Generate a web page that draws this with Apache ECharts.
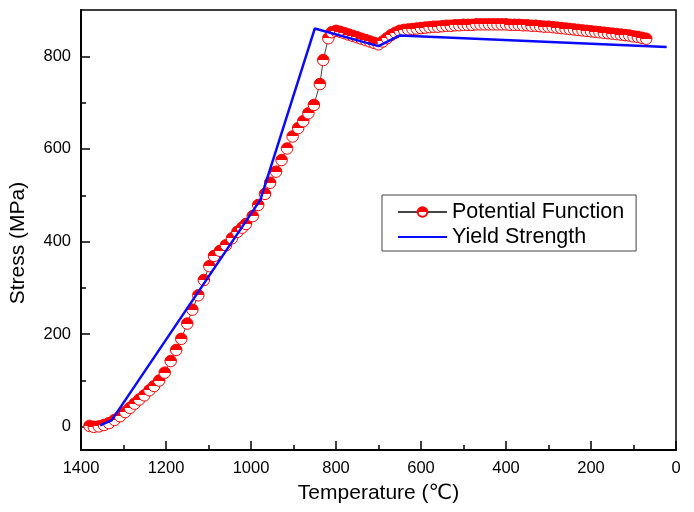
<!DOCTYPE html>
<html>
<head>
<meta charset="utf-8">
<script src="https://cdn.jsdelivr.net/npm/echarts@6/dist/echarts.min.js"></script>
<style>html,body{margin:0;padding:0;background:#fff;}#c{width:694px;height:512px;}</style>
</head>
<body>
<div id="c"></div>
<script>
// Potential Function (red markers)
const pfTemp = [1380,1370,1358,1346,1334,1321,1308,1296,1285,1274,1263,1251,1239,1228,1216,1203,1189,1176,1164,1150,1138,1124,1111,1098,1087,1073,1059,1045,1032,1021,1012,996,983,967,955,941,928,915,902,889,877,865,852,838,830,818,810,
  800,790,780,770,760,750,740,730,720,710,700,690,680,670,660,650,640,630,620,610,600,590,580,570,560,550,540,530,520,510,500,490,480,470,460,450,440,430,420,410,400,390,380,370,360,350,340,330,320,310,300,290,280,270,260,250,240,230,220,210,200,190,180,170,160,150,140,130,120,110,100,90,80,70];
const pfStress = [2,0,1,4,8,15,23,32,41,50,59,68,79,88,100,117,142,166,190,223,253,284,317,347,369,380,392,407,421,430,438,455,479,503,527,551,576,601,627,645,660,677,695,740,792,839,852,
  855,853,850,847,844,841,838,835,832,829,826,832,839,846,851,855,857,858,859,860,861,862,863,864,864,865,866,866,867,867,868,868,868,869,869,869,869,869,869,869,869,868,868,868,867,867,866,866,865,864,864,863,862,861,860,859,858,857,856,855,854,853,852,851,850,849,848,847,846,845,843,842,840,838];
// Yield Strength (blue line)
const ysTemp = [1355,1328,978,850,700,650,22];
const ysStress = [3,14,490,860,822,845,820];
// Axis ticks
const yMajor = [0,200,400,600,800];
const yMinor = [100,300,500,700];

const pfData = pfTemp.map((t,i)=>[t,pfStress[i]]);
const ysData = ysTemp.map((t,i)=>[t,ysStress[i]]);

const FONT = '"Liberation Sans", Arial, "DejaVu Sans", sans-serif';
const chart = echarts.init(document.getElementById('c'));
const halfFill = new echarts.graphic.LinearGradient(0,0,0,1,[
  {offset:0,color:'#ff0000'},{offset:0.5,color:'#ff0000'},
  {offset:0.5,color:'#ffffff'},{offset:1,color:'#ffffff'}]);

chart.setOption({
  animation:false,
  backgroundColor:'#fff',
  grid:{left:81,right:18,top:10,bottom:62,show:true,borderColor:'#000',borderWidth:1.5,backgroundColor:'transparent'},
  legend:{
    orient:'vertical', left:382, top:195,
    padding:[6,12,3,15], itemGap:3, itemWidth:49, itemHeight:12,
    borderColor:'#444', borderWidth:1, backgroundColor:'#fff',
    textStyle:{fontFamily:FONT,fontSize:21.5,color:'#000',lineHeight:22},
    data:[{name:'Potential Function'},{name:'Yield Strength',itemStyle:{opacity:0}}]
  },
  xAxis:{
    type:'value', inverse:true, min:0, max:1400, interval:200,
    name:'Temperature (℃)', nameLocation:'middle', nameGap:33,
    nameTextStyle:{fontFamily:FONT,fontSize:21,color:'#000'},
    axisLine:{onZero:false,lineStyle:{color:'#000',width:2}},
    axisTick:{inside:true,length:9,lineStyle:{color:'#000',width:1.5}},
    minorTick:{show:true,splitNumber:2,length:5,lineStyle:{color:'#000',width:1.5}},
    axisLabel:{fontFamily:FONT,fontSize:16.5,color:'#000',margin:10,formatter:v=>String(v)},
    splitLine:{show:false}
  },
  yAxis:[{
    type:'value', min:-50, max:900, position:'left',
    name:'Stress (MPa)', nameLocation:'middle', nameGap:52,
    nameTextStyle:{fontFamily:FONT,fontSize:21,color:'#000',padding:[0,26,0,0]},
    axisLine:{show:true,onZero:false,lineStyle:{color:'#000',width:2}},
    axisTick:{show:true,inside:true,length:9,customValues:yMajor,lineStyle:{color:'#000',width:1.5}},
    axisLabel:{fontFamily:FONT,fontSize:16.5,color:'#000',margin:10,customValues:yMajor},
    splitLine:{show:false}
  },{
    type:'value', min:-50, max:900, position:'left', offset:0,
    axisLine:{show:false,onZero:false},
    axisTick:{show:true,inside:true,length:5,customValues:yMinor,lineStyle:{color:'#000',width:1.5}},
    axisLabel:{show:false},
    splitLine:{show:false}
  }],
  series:[{
    name:'Potential Function', type:'line', data:pfData,
    symbol:'circle', symbolSize:11.5,
    itemStyle:{color:halfFill,borderColor:'#ff0000',borderWidth:1},
    lineStyle:{color:'#444',width:1},
    z:2
  },{
    name:'Yield Strength', type:'line', data:ysData,
    symbol:'none', itemStyle:{color:'#0a0aff'},
    lineStyle:{color:'#0a0aff',width:2.5},
    z:3
  }]
});
</script>
</body>
</html>
